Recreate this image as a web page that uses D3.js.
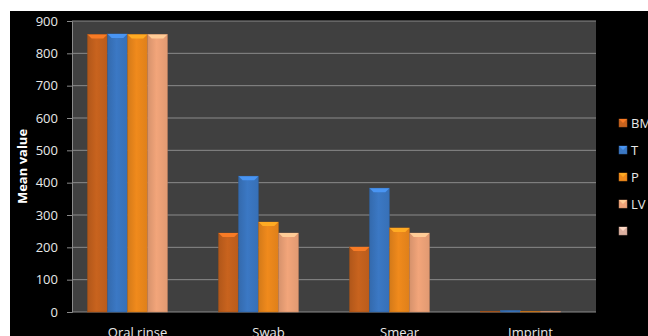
<!DOCTYPE html>
<html><head><meta charset="utf-8">
<script src="https://cdn.jsdelivr.net/npm/d3@7"></script>
<style>
html,body{margin:0;padding:0;background:#fff;}
svg{display:block;}
text{font-family:"Open Sans",sans-serif;}
</style></head>
<body>
<svg id="c" width="648" height="336"></svg>
<script>
const categories = ["Oral rinse","Swab","Smear","Imprint"];
const seriesNames = ["BM","T","P","LV",""];
const BM = [858, 244, 201, 2];
const T  = [860, 420, 383, 5];
const P  = [858, 278, 260, 2];
const LV = [858, 244, 244, 2];
const S5 = [0, 0, 0, 0];
const yTicks = [0,100,200,300,400,500,600,700,800,900];
const colors = ["#c8631e","#3b78c4","#f08a1c","#f2a57a","#dcb0a0"];

const seriesValues = [BM,T,P,LV,S5];
const svg = d3.select("#c");
const W = 648, H = 336;
const bgX = 10, bgY = 11;
const m = {l:72, r:596, t:21, b:312};

svg.append("rect").attr("x",bgX).attr("y",bgY).attr("width",W-bgX).attr("height",H-bgY).attr("fill","#000");

const defs = svg.append("defs");
colors.forEach((c,i)=>{
  const g = defs.append("linearGradient").attr("id","g"+i).attr("x1","0").attr("x2","1").attr("y1","0").attr("y2","0");
  const base = d3.color(c);
  g.append("stop").attr("offset","0").attr("stop-color",base.darker(0.35));
  g.append("stop").attr("offset","0.45").attr("stop-color",base);
  g.append("stop").attr("offset","1").attr("stop-color",base.darker(0.2));
});

const x = d3.scaleBand().domain(categories).range([m.l,m.r]).paddingInner(0).paddingOuter(0);
const x1 = d3.scaleBand().domain(d3.range(seriesNames.length)).range([0,x.bandwidth()]).paddingInner(0.02).paddingOuter(0.78);
const y = d3.scaleLinear().domain([0,900]).range([m.b,m.t]);

svg.append("rect").attr("x",m.l).attr("y",m.t).attr("width",m.r-m.l).attr("height",m.b-m.t).attr("fill","#404040");

// gridlines
svg.append("g").selectAll("line").data(yTicks).join("line")
  .attr("x1",m.l).attr("x2",m.r).attr("y1",d=>y(d)).attr("y2",d=>y(d))
  .attr("stroke","#8a8a8a").attr("stroke-width",1);

// y axis
const ya = svg.append("g").attr("transform",`translate(${m.l},0)`)
  .call(d3.axisLeft(y).tickValues(yTicks).tickSize(5).tickPadding(9));
ya.select(".domain").attr("stroke","#8a8a8a");
ya.selectAll(".tick line").attr("stroke","#8a8a8a");
ya.selectAll(".tick text").attr("fill","#e8e8e8").attr("font-size","13px").attr("font-family","Open Sans, sans-serif");

// x labels
svg.append("g").selectAll("text").data(categories).join("text")
  .attr("x",d=>x(d)+x.bandwidth()/2).attr("y",337)
  .attr("text-anchor","middle").attr("fill","#e8e8e8").attr("font-size","13px").text(d=>d);

// bars
const bw = x1.bandwidth();
seriesValues.forEach((vals,si)=>{
  const g = svg.append("g");
  categories.forEach((c,ci)=>{
    const v = vals[ci];
    if (v<=0) return;
    const bx = x(c)+x1(si), by = y(v), bh = y(0)-y(v);
    g.append("rect").attr("x",bx).attr("y",by).attr("width",bw).attr("height",bh)
      .attr("fill",`url(#g${si})`).attr("stroke",d3.color(colors[si]).darker(0.6)).attr("stroke-width",0.6);
    if (bh>6) {
      const bev = 4;
      g.append("polygon")
        .attr("points",`${bx},${by} ${bx+bw},${by} ${bx+bw-bev},${by+bev} ${bx+bev},${by+bev}`)
        .attr("fill",d3.color(colors[si]).brighter(0.6));
    }
  });
});

// y title
svg.append("text").attr("transform",`translate(27,${(m.t+m.b)/2}) rotate(-90)`)
  .attr("text-anchor","middle").attr("fill","#fff").attr("font-size","13px").attr("font-weight","bold").text("Mean value");

// legend
const lg = svg.append("g");
seriesNames.forEach((n,i)=>{
  const ly = 123 + i*27;
  lg.append("rect").attr("x",619).attr("y",ly-4).attr("width",8).attr("height",8)
    .attr("fill",colors[i]).attr("stroke",d3.color(colors[i]).darker(0.6)).attr("stroke-width",0.5);
  lg.append("polygon").attr("points",`${619},${ly-4} ${627},${ly-4} ${623},${ly}`).attr("fill",d3.color(colors[i]).brighter(0.6));
  lg.append("text").attr("x",631).attr("y",ly+5).attr("fill","#e8e8e8").attr("font-size","13px").text(n);
});
</script>
</body></html>
